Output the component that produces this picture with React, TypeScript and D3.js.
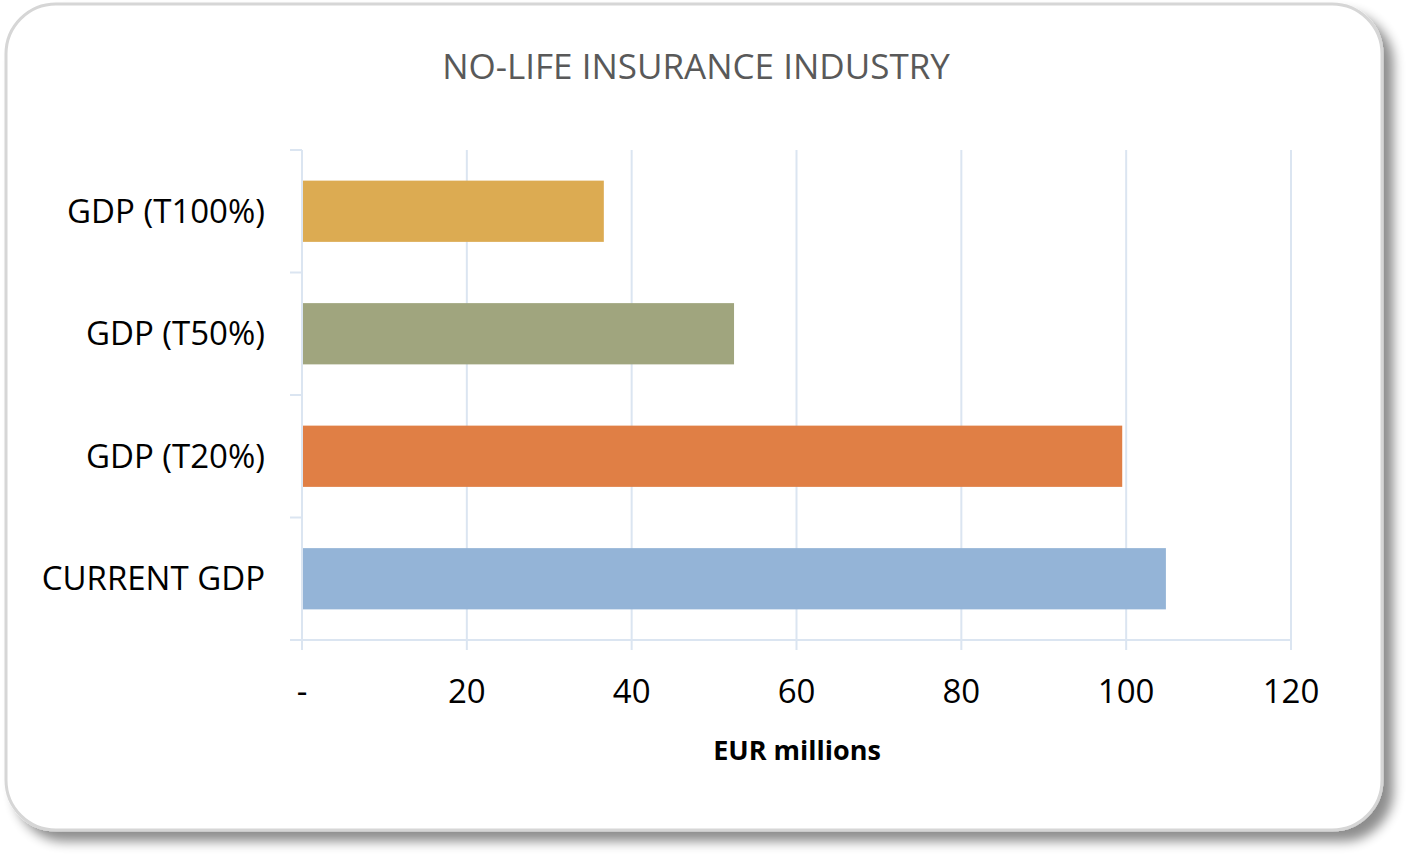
import { useRef, useEffect } from 'react';
import * as d3 from 'd3';

const categories = ['GDP (T100%)', 'GDP (T50%)', 'GDP (T20%)', 'CURRENT GDP'];
const values = [36.5, 52.3, 99.4, 104.7];
const barColors = ['#dcab52', '#a0a57e', '#e07f45', '#94b4d7'];
const xTicks = [0, 20, 40, 60, 80, 100, 120];

const chartTitle = 'NO-LIFE INSURANCE INDUSTRY';
const xTitle = 'EUR millions';

export default function App() {
  const svgRef = useRef(null);
  const width = 1411;
  const height = 857;

  useEffect(() => {
    const margin = { top: 150, right: 120, bottom: 217, left: 302 };
    const svg = d3.select(svgRef.current);
    svg.selectAll('*').remove();

    const font = '"Open Sans", sans-serif';

    // card + shadow
    const defs = svg.append('defs');
    const f = defs
      .append('filter')
      .attr('id', 'shadow')
      .attr('x', '-5%')
      .attr('y', '-5%')
      .attr('width', '115%')
      .attr('height', '115%');
    f.append('feGaussianBlur').attr('in', 'SourceAlpha').attr('stdDeviation', 6);
    f.append('feOffset').attr('dx', 10).attr('dy', 10).attr('result', 'blur');
    f.append('feComponentTransfer')
      .append('feFuncA')
      .attr('type', 'linear')
      .attr('slope', 0.45);
    const merge = f.append('feMerge');
    merge.append('feMergeNode');
    merge.append('feMergeNode').attr('in', 'SourceGraphic');

    svg
      .append('rect')
      .attr('x', 6)
      .attr('y', 4)
      .attr('width', 1376)
      .attr('height', 826)
      .attr('rx', 50)
      .attr('fill', '#fff')
      .attr('stroke', '#d6d6d6')
      .attr('stroke-width', 3)
      .attr('filter', 'url(#shadow)');

    const x = d3
      .scaleLinear()
      .domain([0, 120])
      .range([margin.left, width - margin.right]);

    const y = d3
      .scaleBand()
      .domain(categories)
      .range([margin.top, height - margin.bottom])
      .paddingInner(0.5)
      .paddingOuter(0.25);

    const yTop = margin.top;
    const yBottom = height - margin.bottom;

    // gridlines
    svg
      .append('g')
      .selectAll('line')
      .data(xTicks)
      .join('line')
      .attr('x1', (d) => x(d))
      .attr('x2', (d) => x(d))
      .attr('y1', yTop)
      .attr('y2', yBottom + 10)
      .attr('stroke', '#dbe5f1')
      .attr('stroke-width', 2);

    // axis line
    svg
      .append('line')
      .attr('x1', margin.left - 12)
      .attr('x2', x(120))
      .attr('y1', yBottom)
      .attr('y2', yBottom)
      .attr('stroke', '#dbe5f1')
      .attr('stroke-width', 2);

    // category ticks on y axis
    const step = y.step();
    const bounds = d3.range(categories.length + 1).map((i) => yTop + i * step);
    svg
      .append('g')
      .selectAll('line')
      .data(bounds)
      .join('line')
      .attr('x1', margin.left - 12)
      .attr('x2', margin.left)
      .attr('y1', (d) => d)
      .attr('y2', (d) => d)
      .attr('stroke', '#dbe5f1')
      .attr('stroke-width', 2);

    // bars
    svg
      .selectAll('.bar')
      .data(categories)
      .join('rect')
      .attr('class', 'bar')
      .attr('x', x(0) + 1)
      .attr('y', (d) => y(d))
      .attr('width', (d, i) => x(values[i]) - x(0))
      .attr('height', y.bandwidth())
      .attr('fill', (d, i) => barColors[i]);

    // category labels
    svg
      .selectAll('.cat')
      .data(categories)
      .join('text')
      .attr('class', 'cat')
      .attr('x', 265)
      .attr('y', (d) => y(d) + y.bandwidth() / 2)
      .attr('dy', '0.35em')
      .attr('text-anchor', 'end')
      .attr('font-family', font)
      .style('font-size', '33px')
      .attr('fill', '#000')
      .text((d) => d);

    // x tick labels
    svg
      .selectAll('.xt')
      .data(xTicks)
      .join('text')
      .attr('class', 'xt')
      .attr('x', (d) => x(d))
      .attr('y', 703)
      .attr('text-anchor', 'middle')
      .attr('font-family', font)
      .style('font-size', '33px')
      .attr('fill', '#000')
      .text((d) => (d === 0 ? '-' : d));

    // axis title
    svg
      .append('text')
      .attr('x', 797)
      .attr('y', 760)
      .attr('text-anchor', 'middle')
      .attr('font-family', font)
      .attr('font-weight', 700)
      .style('font-size', '27px')
      .attr('fill', '#000')
      .text(xTitle);

    // chart title
    svg
      .append('text')
      .attr('x', 696)
      .attr('y', 79)
      .attr('text-anchor', 'middle')
      .attr('font-family', font)
      .style('font-size', '35px')
      .attr('fill', '#595959')
      .text(chartTitle);
  }, []);

  return (
    <svg
      ref={svgRef}
      width={width}
      height={height}
      style={{ position: 'absolute', left: 0, top: 0 }}
    ></svg>
  );
}
